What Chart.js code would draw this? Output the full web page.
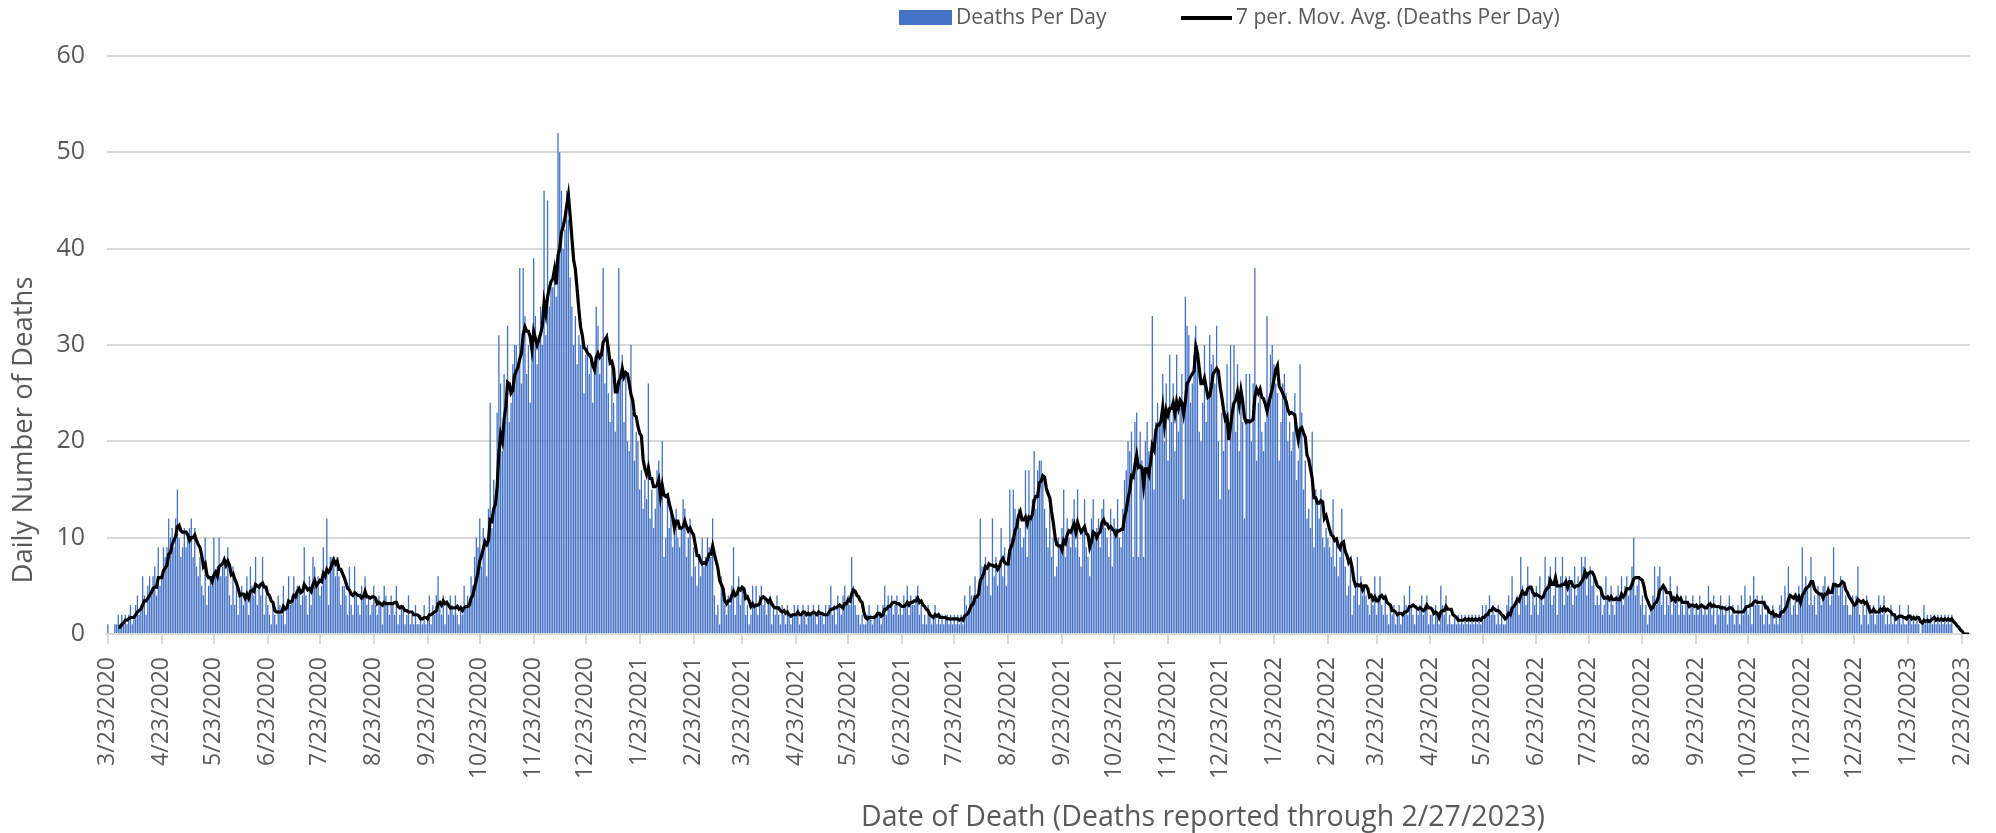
<!DOCTYPE html>
<html>
<head>
<meta charset="utf-8">
<title>Deaths Per Day</title>
<script src="https://cdn.jsdelivr.net/npm/chart.js@4.4.1/dist/chart.umd.min.js"></script>
<style>
  html, body { margin: 0; padding: 0; background: #ffffff; }
  #chartBox { width: 1996px; height: 833px; }
</style>
</head>
<body>
<div id="chartBox"><canvas id="deathsChart" width="1996" height="833"></canvas></div>
<script>
// daily deaths, one value per day starting 3/23/2020
const deaths2020 = [
    1,0,0,0,1,1,2,1,2,1, 2,1,2,3,1,2,3,4,2,3, 6,4,2,5,6,4,6,7,4,9,
    5,6,9,8,9,12,10,11,9,12, 15,10,8,9,11,9,10,11,12,8, 11,7,6,8,5,4,10,3,5,6,
    5,10,6,7,10,6,7,8,6,9, 4,3,7,3,5,2,4,5,3,4, 6,2,7,5,4,8,3,5,4,8,
    2,4,3,2,1,3,2,1,4,3, 2,5,1,3,6,3,4,6,4,5, 5,3,4,9,4,2,6,3,8,7,
    5,6,4,5,9,6,12,3,8,8, 8,6,8,6,3,5,5,4,2,7, 3,2,7,4,3,2,5,4,6,3,
    4,2,3,5,3,2,4,3,1,5, 4,3,2,4,3,2,5,1,2,3, 3,1,2,4,1,2,1,3,1,1,
    2,1,3,1,2,4,1,3,2,4, 6,3,2,4,1,3,2,4,3,2, 4,2,1,3,2,5,3,4,3,6,
    5,8,10,9,12,7,11,10,6,13, 24,11,16,14,23,31,26,19,27,25, 32,22,24,28,30,30,28,38,26,38,
    33,27,30,24,29,39,33,28,31,34, 30,46,31,45,34,36,36,37,35,52, 50,46,40,42,46,43,37,34,30,33,
    28,31,30,31,25,29,30,27,29,24, 28,34,32,27
];
const deaths2021 = [
    29,38,
    26,30,25,22,28,24,21,26,38,27, 29,22,27,20,19,30,23,18,21,20, 15,17,13,16,14,26,12,15,11,13,
    17,18,14,20,8,10,14,11,13,9, 12,13,10,9,11,14,13,8,10,12, 6,9,7,5,8,6,10,7,8,10,
    9,8,12,4,2,3,1,6,5,3, 2,4,3,5,9,2,4,6,3,5, 4,2,3,1,2,5,3,5,2,4,
    5,3,4,2,3,4,1,3,2,4, 2,1,3,2,1,3,2,1,2,3, 2,3,1,2,3,2,1,3,2,2,
    3,2,1,3,2,2,1,3,2,3, 5,2,3,1,4,3,2,4,5,3, 4,3,8,5,3,2,2,1,2,1,
    1,2,3,2,1,2,2,3,2,1, 3,5,2,4,3,4,2,3,4,2, 3,2,4,3,5,2,4,3,3,4,
    5,2,3,1,2,1,3,2,1,2, 3,1,2,1,2,1,2,2,1,2, 1,2,1,2,1,2,1,4,3,2,
    5,4,3,6,4,5,12,7,7,8, 5,7,4,12,6,8,5,7,11,6, 9,5,8,15,10,15,13,12,13,11,
    9,10,17,8,17,12,14,19,13,17, 18,18,16,13,11,9,14,8,10,6, 7,10,9,11,15,8,12,10,9,12,
    14,9,15,8,7,11,14,9,8,6, 12,14,10,11,12,9,13,14,11,10, 8,13,7,12,11,14,10,9,13,16,
    17,20,19,21,8,22,23,8,21,18, 8,20,22,19,17,33,15,22,24,22, 22,27,20,26,18,29,22,26,19,29,
    21,24,27,14,35,32,31,24,26,29, 32,30,21,20,24,30,22,25,31,28, 29,26,32,20,14,23,19,22,28,15,
    30,24,30
];
const deaths2022 = [
    21,28,19,25,22,12,27,
    22,27,20,26,38,18,24,25,21,19, 22,33,24,29,30,28,26,25,18,22, 26,27,25,20,22,19,21,25,16,18,
    28,23,15,18,12,13,11,21,9,15, 14,12,15,10,9,11,10,9,8,14, 7,10,6,8,13,9,7,4,5,8,
    2,4,5,8,3,6,4,5,4,3, 2,4,3,6,2,4,6,3,2,4, 2,1,3,2,3,1,2,3,1,2,
    4,3,2,5,3,2,1,3,2,3, 4,2,3,4,1,2,2,1,3,2, 1,5,3,2,4,1,2,1,1,2,
    1,2,1,2,1,2,1,2,1,2, 1,2,1,2,1,3,2,3,2,4, 2,3,2,1,3,1,2,1,1,3,
    4,2,6,3,3,4,2,8,5,4, 3,7,5,2,4,3,5,2,6,4, 3,8,5,6,7,3,4,8,2,5,
    6,8,3,6,4,6,5,3,7,4, 6,5,8,7,8,4,6,7,5,6, 3,4,3,5,2,3,6,4,2,5,
    3,2,4,5,4,6,3,5,6,4, 5,7,10,4,5,6,3,4,2,3, 1,2,3,4,7,3,6,7,3,5,
    2,4,3,6,2,4,3,5,2,4, 3,2,4,3,2,3,4,2,3,2, 4,3,2,3,2,5,3,2,4,1,
    3,2,4,3,2,3,1,4,2,3, 1,2,3,1,4,2,5,3,2,4, 1,6,3,4,3,2,4,1,2,3,
    1,2,3,1,2,1,3,4,2,5, 3,7,4,2,3,4,2,5,3,9, 4,6,5,3,8,3,4,2,5,4,
    3,5,6,4,5,3,4,9,5,5, 4,6,5,3,4,3,2,2,4,3, 4,7,2,1,3,2,4,1
];
const deaths2023 = [
    3,2,3,1,2,4,
    3,2,4,1,2,1,3,1,2,1, 2,3,1,2,1,1,3,2,1,2, 1,2,1,0,1,3,1,2,1,2,
    1,2,1,2,1,2,1,2,1,2, 1,2,0,0,0,0,0,0,0,0,0,0
];

// dates that get a tick label on the x axis
const tickLabels = [
    '3/23/2020', '4/23/2020', '5/23/2020', '6/23/2020', '7/23/2020', '8/23/2020',
    '9/23/2020', '10/23/2020', '11/23/2020', '12/23/2020', '1/23/2021', '2/23/2021',
    '3/23/2021', '4/23/2021', '5/23/2021', '6/23/2021', '7/23/2021', '8/23/2021',
    '9/23/2021', '10/23/2021', '11/23/2021', '12/23/2021', '1/23/2022', '2/23/2022',
    '3/23/2022', '4/23/2022', '5/23/2022', '6/23/2022', '7/23/2022', '8/23/2022',
    '9/23/2022', '10/23/2022', '11/23/2022', '12/23/2022', '1/23/2023', '2/23/2023'
];

const barLabel = 'Deaths Per Day';
const avgLabel = '7 per. Mov. Avg. (Deaths Per Day)';
const xTitle = 'Date of Death (Deaths reported through 2/27/2023)';
const yTitle = 'Daily Number of Deaths';

const deathsPerDay = [...deaths2020, ...deaths2021, ...deaths2022, ...deaths2023];

// one category per day
const dates = deathsPerDay.map((v, i) => {
    const d = new Date(2020, 2, 23 + i);
    return (d.getMonth() + 1) + '/' + d.getDate() + '/' + d.getFullYear();
});
const tickSet = new Set(tickLabels);

// 7 period trailing moving average, like the Excel trendline
const movingAvg = deathsPerDay.map((v, i) => {
    if (i < 6) return null;
    let sum = 0;
    for (let k = i - 6; k <= i; k++) sum += deathsPerDay[k];
    return sum / 7;
});

const FONT = "'Open Sans', 'Noto Sans', sans-serif";
const TEXT_COLOR = '#595959';

// legend and axis titles, placed where the reference has them
const extraText = {
    id: 'extraText',
    afterDraw(chart) {
        const c = chart.ctx;
        c.save();
        c.textBaseline = 'middle';

        // legend
        c.font = '21px ' + FONT;
        c.fillStyle = '#4472C4';
        c.fillRect(899, 10, 53, 15);
        c.fillStyle = TEXT_COLOR;
        c.textAlign = 'left';
        c.fillText(barLabel, 956, 18);
        c.strokeStyle = '#000000';
        c.lineWidth = 4;
        c.beginPath();
        c.moveTo(1181, 18);
        c.lineTo(1232, 18);
        c.stroke();
        c.fillText(avgLabel, 1236, 18);

        // x title
        c.font = '28.5px ' + FONT;
        c.textAlign = 'center';
        c.fillText(xTitle, 1203, 818);

        // y title
        c.font = '27.5px ' + FONT;
        c.translate(24, 430);
        c.rotate(-Math.PI / 2);
        c.fillText(yTitle, 0, 0);
        c.restore();
    }
};

function initializeChart() {
    const ctx = document.getElementById('deathsChart').getContext('2d');
    new Chart(ctx, {
        type: 'bar',
        data: {
            labels: dates,
            datasets: [
                {
                    type: 'line',
                    label: avgLabel,
                    data: movingAvg,
                    borderColor: '#000000',
                    borderWidth: 3.2,
                    pointRadius: 0,
                    tension: 0,
                    order: 0,
                },
                {
                    type: 'bar',
                    label: barLabel,
                    data: deathsPerDay,
                    backgroundColor: '#4472C4',
                    barPercentage: 0.75,
                    categoryPercentage: 1,
                    order: 1,
                },
            ],
        },
        options: {
            responsive: false,
            animation: false,
            devicePixelRatio: 1,
            layout: {
                padding: { top: 56, right: 26, left: 0, bottom: 0 },
            },
            plugins: {
                legend: { display: false },
                tooltip: { enabled: false },
            },
            scales: {
                x: {
                    grid: {
                        drawOnChartArea: false,
                        drawTicks: true,
                        tickLength: 10,
                        offset: false,
                        lineWidth: 2,
                        color: (c) => (tickSet.has(dates[c.index]) ? '#d9d9d9' : 'rgba(0,0,0,0)'),
                    },
                    border: { display: true, color: '#d9d9d9', width: 2 },
                    ticks: {
                        autoSkip: false,
                        minRotation: 90,
                        maxRotation: 90,
                        padding: 13,
                        color: TEXT_COLOR,
                        font: { family: FONT, size: 23 },
                        callback: function (value) {
                            const lbl = this.getLabelForValue(value);
                            return tickSet.has(lbl) ? lbl : '';
                        },
                    },
                    afterFit: (scale) => {
                        scale.height = 199;
                        scale.paddingLeft = 0;
                        scale.paddingRight = 0;
                    },
                },
                y: {
                    min: 0,
                    max: 60,
                    grid: {
                        color: '#d9d9d9',
                        lineWidth: 2,
                        drawTicks: false,
                    },
                    border: { display: false },
                    ticks: {
                        stepSize: 10,
                        padding: 22,
                        color: TEXT_COLOR,
                        font: { family: FONT, size: 25 },
                    },
                    afterFit: (scale) => { scale.width = 107; },
                },
            },
        },
        plugins: [extraText],
    });
}

initializeChart();
</script>
</body>
</html>
